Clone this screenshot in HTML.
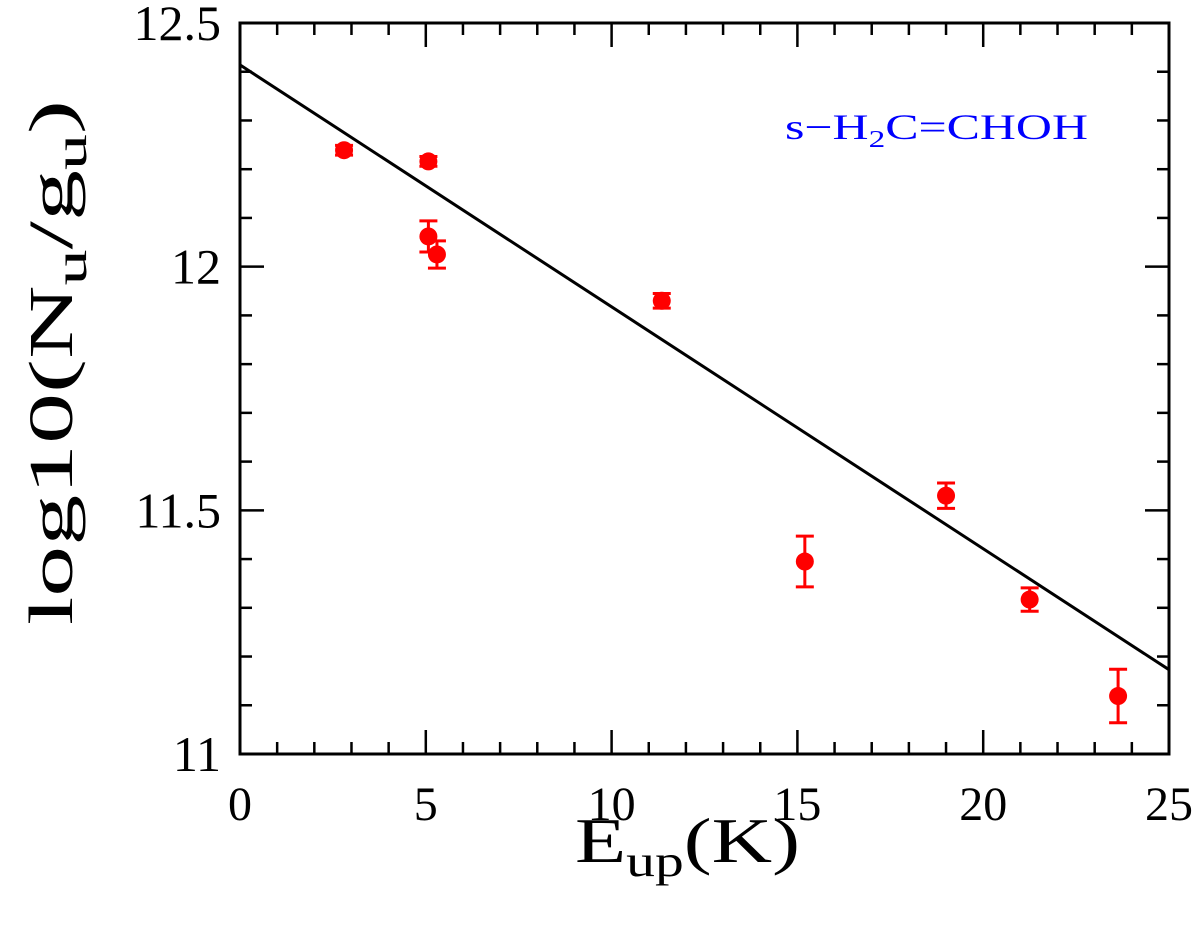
<!DOCTYPE html>
<html><head><meta charset="utf-8"><style>
body{margin:0;background:#fff}
svg{display:block}
text{font-family:"Liberation Serif",serif;fill:#000}
</style></head><body>
<svg id="chart" width="1200" height="944" viewBox="0 0 1200 944" xmlns="http://www.w3.org/2000/svg">
<g id="ticks"></g>
<g id="fit"></g>
<g id="pts"></g>
<rect x="240" y="23" width="929" height="731" fill="none" stroke="#000" stroke-width="3"/>
<text x="785" y="139" font-size="36" textLength="303" lengthAdjust="spacingAndGlyphs" style="fill:#0000ff">s−H<tspan font-size="24" dy="8">2</tspan><tspan dy="-8">C=CHOH</tspan></text>
<text x="575" y="862" font-size="64" textLength="225" lengthAdjust="spacingAndGlyphs">E<tspan font-size="44" dy="14">up</tspan><tspan dy="-14">(K)</tspan></text>
<text transform="translate(72,625) rotate(-90)" font-size="62" textLength="525" lengthAdjust="spacingAndGlyphs">log10(N<tspan font-size="44" dy="14">u</tspan><tspan dy="-14">/g</tspan><tspan font-size="44" dy="14">u</tspan><tspan dy="-14">)</tspan></text>
</svg>
<script>
const eup=[2.8,5.07,5.07,5.3,11.35,15.2,19.0,21.25,23.63];
const logN=[12.239,12.216,12.062,12.025,11.93,11.395,11.53,11.317,11.119];
const errs=[0.01,0.01,0.032,0.028,0.015,0.052,0.026,0.024,0.055];
const fitX=[0,25];
const fitY=[12.414,11.173];
const xTicks=[0,5,10,15,20,25];
const yTicks=[11,11.5,12,12.5];
const yTickLabels=["11","11.5","12","12.5"];
const X0=240,X1=1169,Y0=754,Y1=23;
const sx=v=>X0+(v-0)/25*(X1-X0);
const sy=v=>Y0-(v-11)/1.5*(Y0-Y1);
const NS="http://www.w3.org/2000/svg";
function mk(tag,attrs,parent){const e=document.createElementNS(NS,tag);for(const k in attrs)e.setAttribute(k,attrs[k]);parent.appendChild(e);return e;}
const tg=document.getElementById('ticks');
for(let i=1;i<25;i++){const L=i%5===0?24:12;
 let t=mk('line',{x1:sx(i),x2:sx(i),y1:Y0,y2:Y0-L,stroke:'#000','stroke-width':2.5},tg);
 
 
 t=mk('line',{x1:sx(i),x2:sx(i),y1:Y1,y2:Y1+L,stroke:'#000','stroke-width':2.5},tg);
 
 }
for(let i=1;i<15;i++){const v=11+i*0.1;const L=i%5===0?24:12;
 let t=mk('line',{x1:X0,x2:X0+L,y1:sy(v),y2:sy(v),stroke:'#000','stroke-width':2.5},tg);
 
 
 t=mk('line',{x1:X1,x2:X1-L,y1:sy(v),y2:sy(v),stroke:'#000','stroke-width':2.5},tg);
 
 }
xTicks.forEach(v=>{const t=mk('text',{x:sx(v),y:820,'font-size':48,'text-anchor':'middle'},tg);t.textContent=String(v);
 
 });
yTicks.forEach((v,i)=>{const t=mk('text',{x:221,y:sy(v)+17,'font-size':50,'text-anchor':'end'},tg);t.textContent=yTickLabels[i];
 
 });
const fl=mk('line',{x1:sx(fitX[0]),y1:sy(fitY[0]),x2:sx(fitX[1]),y2:sy(fitY[1]),stroke:'#000','stroke-width':3},document.getElementById('fit'));


const pg=document.getElementById('pts');
eup.forEach((x,i)=>{const cx=sx(x),cy=sy(logN[i]),t=sy(logN[i]+errs[i]),b=sy(logN[i]-errs[i]);
 const g=mk('g',{},pg);
 
 
 mk('line',{x1:cx,x2:cx,y1:t,y2:b,stroke:'#f00','stroke-width':3},g);
 mk('line',{x1:cx-9,x2:cx+9,y1:t,y2:t,stroke:'#f00','stroke-width':3},g);
 mk('line',{x1:cx-9,x2:cx+9,y1:b,y2:b,stroke:'#f00','stroke-width':3},g);
 mk('circle',{cx:cx,cy:cy,r:9,fill:'#f00'},g);});
</script>
</body></html>
